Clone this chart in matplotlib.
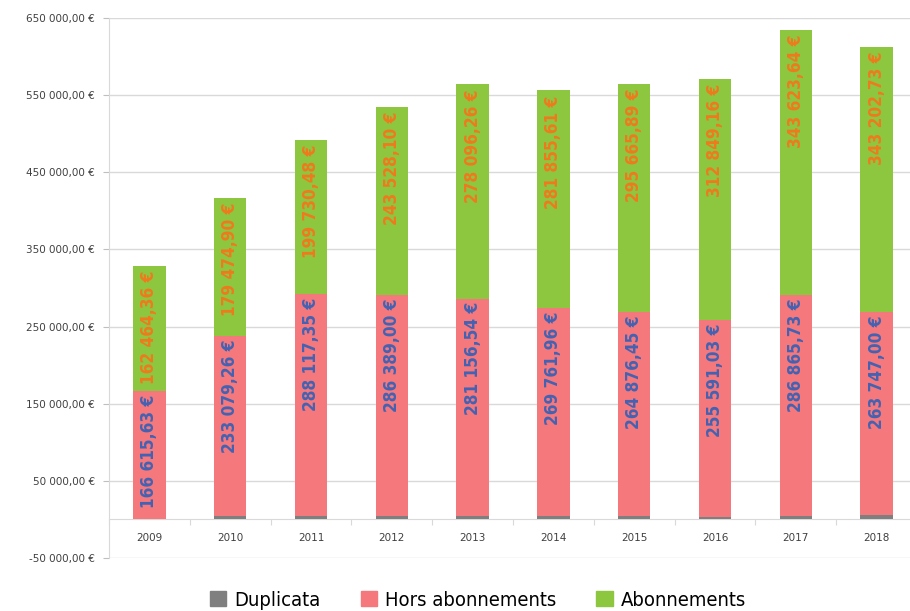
import matplotlib
matplotlib.use("Agg")
import matplotlib.pyplot as plt
import numpy as np
from matplotlib.patches import Patch

years = ["2009", "2010", "2011", "2012", "2013", "2014", "2015", "2016", "2017", "2018"]
duplicata = [0, 4500, 4000, 4500, 5000, 4500, 4500, 3000, 4400, 5500]
hors_abonnements = [166615.63, 233079.26, 288117.35, 286389.00, 281156.54,
                    269761.96, 264876.45, 255591.03, 286865.73, 263747.00]
abonnements = [162464.36, 179474.90, 199730.48, 243528.10, 278096.26,
               281855.61, 295665.89, 312849.16, 343623.64, 343202.73]
y_ticks = [-50000, 50000, 150000, 250000, 350000, 450000, 550000, 650000]

c_dup = "#7f7f7f"
c_hors = "#f4787c"
c_abo = "#8dc63f"
c_hors_txt = "#4262b2"
c_abo_txt = "#f07a1e"

def fmt_eur(v):
    s = f"{v:,.2f}"
    s = s.replace(",", " ").replace(".", ",")
    return s + " €"

fig = plt.figure(figsize=(9.10, 6.11), dpi=100)
ax = fig.add_axes([109/910, 53/611, (917-109)/910, 540/611])

x = np.arange(len(years))
w = 0.4
d = np.array(duplicata)
h = np.array(hors_abonnements)
a = np.array(abonnements)

ax.bar(x, d, w, color=c_dup, zorder=3)
ax.bar(x, h, w, bottom=d, color=c_hors, zorder=3)
ax.bar(x, a, w, bottom=d + h, color=c_abo, zorder=3)

lab_font = dict(family=["DejaVu Sans"], fontstretch="condensed", fontsize=12.3, fontweight="bold")
for i in range(len(years)):
    ax.annotate(fmt_eur(h[i]), (x[i], d[i] + h[i]), xytext=(0, -2.5), textcoords="offset points",
                rotation=90, ha="center", va="top", color=c_hors_txt, zorder=5, **lab_font)
    ax.annotate(fmt_eur(a[i]), (x[i], d[i] + h[i] + a[i]), xytext=(0, -3.5), textcoords="offset points",
                rotation=90, ha="center", va="top", color=c_abo_txt, zorder=5, **lab_font)

ax.set_xlim(-0.5, 9.5)
ax.set_ylim(-50000, 650000)
ax.set_yticks(y_ticks)
ax.set_yticklabels([fmt_eur(v) for v in y_ticks], fontsize=7.5, color="#404040")
ax.tick_params(axis="y", length=4, color="#bfbfbf", pad=6)
ax.grid(axis="y", color="#d9d9d9", lw=1, zorder=0)

ax.spines["bottom"].set_position(("data", 0))
ax.spines["bottom"].set_color("#d9d9d9")
ax.spines["left"].set_color("#d9d9d9")
ax.spines["top"].set_visible(False)
ax.spines["right"].set_visible(False)
ax.set_xticks(np.arange(-0.5, 10, 1))
ax.set_xticklabels([])
ax.tick_params(axis="x", length=4, color="#d9d9d9", direction="out")

for i, yr in enumerate(years):
    ax.text(x[i], -24000, yr, ha="center", va="center", fontsize=7.5, color="#404040")

handles = [Patch(color=c_dup), Patch(color=c_hors), Patch(color=c_abo)]
fig.legend(handles, ["Duplicata", "Hors abonnements", "Abonnements"], ncol=3,
           loc="center", bbox_to_anchor=(478/910, 11/611), frameon=False,
           prop=dict(family=["DejaVu Sans"], stretch="condensed", size=14.5),
           handlelength=0.8, handleheight=0.8, handletextpad=0.4, columnspacing=2.0)

fig.savefig("out.png", dpi=100)
